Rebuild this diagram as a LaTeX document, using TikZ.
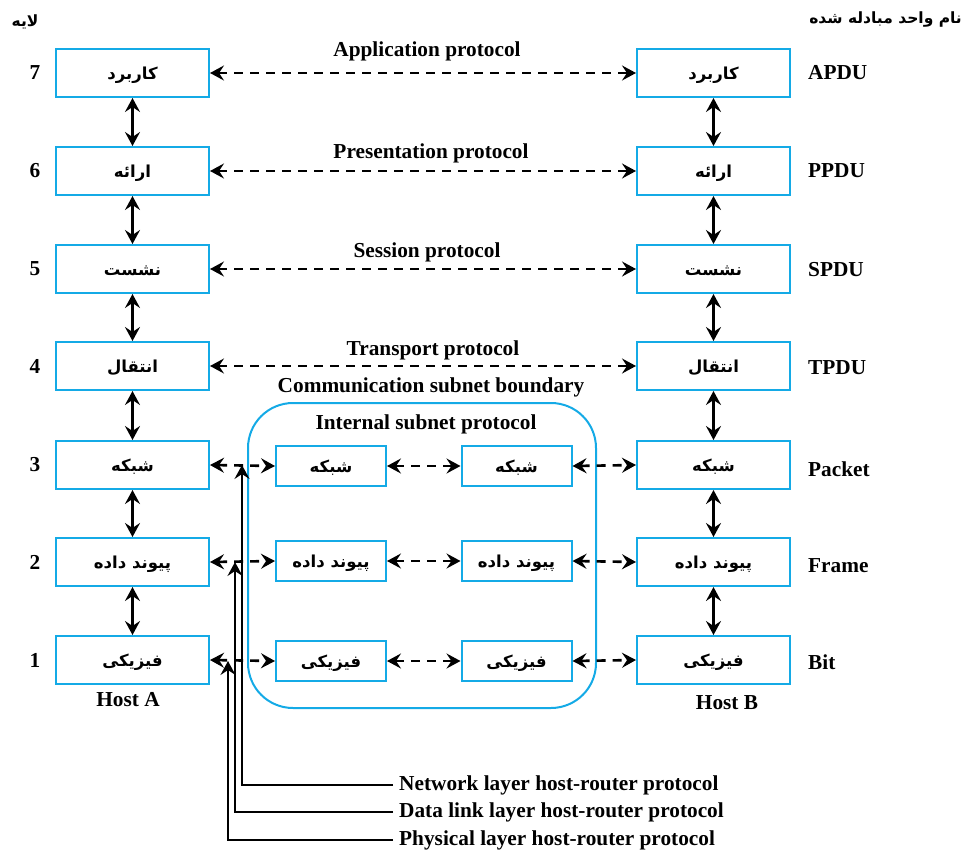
\documentclass[tikz,border=0pt]{standalone}
\usepackage{fontspec}
\setmainfont{Liberation Serif}
\newfontfamily\fa[Script=Arabic]{DejaVu Sans}
\TeXXeTstate=1
\usetikzlibrary{arrows.meta}
\definecolor{boxblue}{RGB}{20,170,230}
\tikzset{
  layerbox/.style={draw=boxblue, line width=2pt, minimum width=153pt, minimum height=48pt, inner sep=0pt, font=\fa\bfseries\fontsize{16.5}{18}\selectfont},
  innerbox/.style={layerbox, minimum width=110pt, minimum height=40pt},
  lbl/.style={font=\bfseries\fontsize{21.3}{23}\selectfont, inner sep=0pt},
  falbl/.style={font=\fa\bfseries\fontsize{15.5}{17}\selectfont, inner sep=0pt},
  tip/.tip={Stealth[length=14pt,width=15pt,inset=5pt]},
  peer/.style={line width=2.6pt, dash pattern=on 9pt off 7pt, {tip}-{tip}},
  vert/.style={line width=2.6pt, {tip}-{tip}},
  hr/.style={line width=2.4pt, -{tip}},
}
\newcommand{\fatext}[1]{\raisebox{-6.5pt}[0pt][0pt]{\beginR#1\endR}}
\begin{document}
\begin{tikzpicture}[x=1pt,y=-1pt]
\useasboundingbox (0,0) rectangle (965,853);

% subnet boundary
\node[draw=boxblue, line width=2pt, rounded corners=45pt, minimum width=348pt, minimum height=305pt, inner sep=0pt] (subnet) at (422,555.5) {};

% host boxes
\foreach \n/\y/\t in {7/73/کاربرد, 6/171/ارائه, 5/269/نشست, 4/366/انتقال, 3/465/شبکه, 2/562/پیوند داده, 1/660/فیزیکی}{
  \node[layerbox] (L\n) at (132.5,\y) {\fatext{\t}};
  \node[layerbox] (R\n) at (713.5,\y) {\fatext{\t}};
  \node[lbl] (num\n) at (35,\y) {\n};
}
% inner boxes
\foreach \n/\y/\t in {3/466/شبکه, 2/561/پیوند داده, 1/661/فیزیکی}{
  \node[innerbox] (IL\n) at (331,\y) {\fatext{\t}};
  \node[innerbox] (IR\n) at (516.5,\y) {\fatext{\t}};
}

% headings
\node[falbl] (hlayer) at (25,22) {\beginR لایه\endR};
\node[falbl, anchor=east] (hunit) at (962,20) {\beginR نام واحد مبادله شده\endR};

% unit labels
\foreach \n/\y/\t in {7/73/APDU, 6/171/PPDU, 5/270/SPDU, 4/368/TPDU, 3/469/Packet, 2/566/Frame, 1/662/Bit}{
  \node[lbl, anchor=west] (u\n) at (808,\y) {\t};
}

% protocol labels
\node[lbl, anchor=base] (papp) at (427,57) {Application protocol};
\node[lbl, anchor=base] (ppre) at (431,159) {Presentation protocol};
\node[lbl, anchor=base] (pses) at (427,257) {Session protocol};
\node[lbl, anchor=base] (ptra) at (433,355) {Transport protocol};
\node[lbl, anchor=base] (pcom) at (431,392) {Communication subnet boundary};
\node[lbl, anchor=base] (pint) at (426,429) {Internal subnet protocol};

\node[lbl] (hosta) at (128,700) {Host A};
\node[lbl] (hostb) at (727,703) {Host B};

% vertical arrows
\foreach \a/\b in {7/6,6/5,5/4,4/3,3/2,2/1}{
  \draw[vert] (L\a.south) -- (L\b.north);
  \draw[vert] (R\a.south) -- (R\b.north);
}
% peer protocols
\foreach \n in {7,6,5,4}{
  \draw[peer] (L\n.east) -- (R\n.west);
}
\foreach \n in {3,2,1}{
  \draw[peer] (L\n.east) -- (IL\n.west);
  \draw[peer] (IL\n.east) -- (IR\n.west);
  \draw[peer] (IR\n.east) -- (R\n.west);
}

% host-router protocol lines
\node[lbl, anchor=west] (lnet) at (399,785) {Network layer host-router protocol};
\node[lbl, anchor=west] (ldat) at (399,812) {Data link layer host-router protocol};
\node[lbl, anchor=west] (lphy) at (399,840) {Physical layer host-router protocol};
\coordinate (tnet) at (242,465);
\coordinate (tdat) at (235,562);
\coordinate (tphy) at (228,661);
\draw[hr] ([xshift=-6pt]lnet.west) -| (tnet);
\draw[hr] ([xshift=-6pt]ldat.west) -| (tdat);
\draw[hr] ([xshift=-6pt]lphy.west) -| (tphy);
\end{tikzpicture}
\end{document}
